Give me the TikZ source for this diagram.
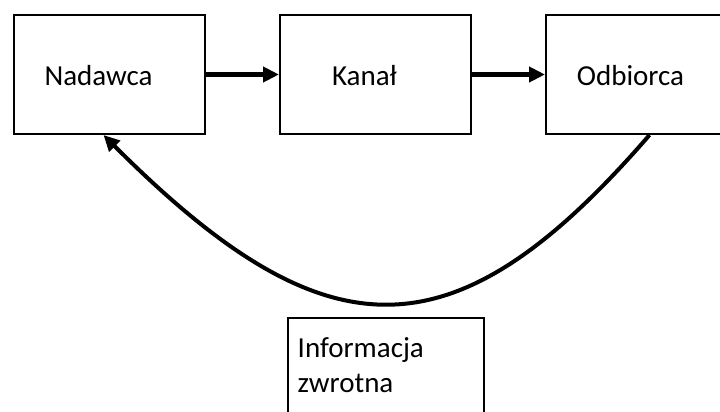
\documentclass[tikz,border=0pt]{standalone}
\usepackage{fontspec}
\setmainfont{Carlito}
\usetikzlibrary{arrows.meta,positioning}

\begin{document}
\begin{tikzpicture}[
    x=1pt, y=1pt,
    node distance=73pt,
    box/.style={
        draw,
        line width=2pt,
        minimum width=191pt,
        minimum height=119pt,
        inner sep=0pt
    },
    txt/.style={font=\fontsize{29pt}{35pt}\selectfont, inner sep=0pt},
    line/.style={-{Triangle[length=16pt,width=15pt]}, line width=4.5pt},
    back/.style={-{Triangle[length=16pt,width=15pt]}, line width=4pt}
]

\useasboundingbox (0,0) rectangle (720,-412);
\clip (0,0) rectangle (720,-412);

% boxes
\node[box, anchor=north west] (nad) at (13,-14) {};
\node[box, right=of nad] (kan) {};
\node[box, right=of kan] (odb) {};
\node[box, minimum width=196pt, below=182pt of kan, xshift=10pt] (info) {};

% texts
\node[txt, anchor=base] (nadtxt) at ([xshift=-11pt,yshift=-11pt]nad.center) {Nadawca};
\node[txt, anchor=base] (kantxt) at ([xshift=-11pt,yshift=-11pt]kan.center) {Kanał};
\node[txt, anchor=base] (odbtxt) at ([xshift=-11pt,yshift=-11pt]odb.center) {Odbiorca};
\node[txt, anchor=base west, align=left] (infotxt) at ([shift={(11,-75)}]info.north west) {Informacja\\zwrotna};

\draw[line] (nad) -- (kan);
\draw[line] (kan) -- (odb);
\draw[back] ([xshift=8pt]odb.south) .. controls +(-195,-225) and +(224,-224) .. ([xshift=-6pt]nad.south);

\end{tikzpicture}
\end{document}
